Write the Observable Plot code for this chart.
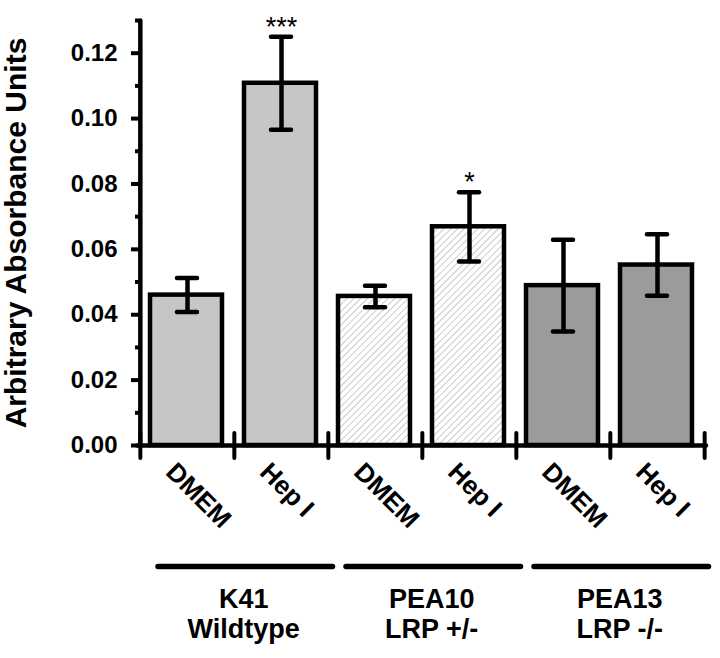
<!DOCTYPE html>
<html><head><meta charset="utf-8">
<script src="https://cdn.jsdelivr.net/npm/d3@7"></script>
<script src="https://cdn.jsdelivr.net/npm/@observablehq/plot@0.6"></script>
<style>body{margin:0;background:#fff}</style>
</head><body><div id="chart"></div>
<script>
const groups = ["K41\nWildtype", "PEA10\nLRP +/-", "PEA13\nLRP -/-"];
const treatments = ["DMEM", "Hep I"];
const means = [0.0460, 0.1108, 0.0456, 0.0669, 0.0489, 0.0552];
const errors = [0.0052, 0.0142, 0.0033, 0.0106, 0.0140, 0.0094];
const significance = ["", "***", "", "*", "", ""];
const yTicks = [0, 0.02, 0.04, 0.06, 0.08, 0.10, 0.12];
const yMinorTicks = [0.01, 0.03, 0.05, 0.07, 0.09, 0.11, 0.13];
const yMax = 0.13;
const yLabel = "Arbitrary Absorbance Units";

const groupFills = ["#c6c6c6", "url(#hatch)", "#9b9b9b"];

const rows = [];
groups.forEach((g, gi) => treatments.forEach((t, ti) => {
  const i = gi * 2 + ti;
  rows.push({key: `${gi}-${t}`, group: gi, treatment: t, mean: means[i], err: errors[i], sig: significance[i]});
}));
const keys = rows.map(d => d.key);
const groupRows = groups.map((g, gi) => ({label: g, first: keys[gi * 2], last: keys[gi * 2 + 1]}));
const axisLine = [{k: keys[0], v: 0}, {k: keys[0], v: yMax}];

const W = 720, H = 658, mL = 139, mR = 15, mT = 20, mB = 213;
const bw = (W - mL - mR) / keys.length;

// short vertical stroke used as a tick symbol on the x axis
const vTick = {draw(ctx, size) { const r = Math.sqrt(size); ctx.moveTo(0, -r); ctx.lineTo(0, r); }};

const svg = Plot.plot({
  width: W, height: H,
  marginLeft: mL, marginRight: mR, marginTop: mT, marginBottom: mB,
  style: {fontFamily: "'Liberation Sans', Arial, sans-serif", background: "#fff", color: "#000"},
  x: {domain: keys, padding: 0, axis: null},
  y: {domain: [0, yMax], axis: null},
  marks: [
    ...groups.map((g, gi) => Plot.barY(rows.filter(d => d.group === gi), {
      x: "key", y: "mean", fill: groupFills[gi], stroke: "black", strokeWidth: 4.5,
      insetLeft: 10, insetRight: 12
    })),
    Plot.ruleX(rows, {x: "key", y1: d => d.mean - d.err, y2: d => d.mean + d.err, strokeWidth: 4.5}),
    Plot.tickY(rows, {x: "key", y: d => d.mean + d.err, insetLeft: 37, insetRight: 37, strokeWidth: 4.5, strokeLinecap: "round"}),
    Plot.tickY(rows, {x: "key", y: d => d.mean - d.err, insetLeft: 37, insetRight: 37, strokeWidth: 4.5, strokeLinecap: "round"}),
    Plot.text(rows.filter(d => d.sig), {x: "key", y: d => d.mean + d.err, text: "sig", lineAnchor: "bottom", dy: -1, fontSize: 27}),
    Plot.ruleY([0], {strokeWidth: 4.5, insetLeft: -2, insetRight: -1, strokeLinecap: "round"}),
    Plot.dot(keys, {x: d => d, y: () => 0, dx: -bw / 2, symbol: vTick, r: 7, stroke: "black", strokeWidth: 4, strokeLinecap: "round", fill: "none"}),
    Plot.dot([keys[keys.length - 1]], {x: d => d, y: () => 0, dx: bw / 2, symbol: vTick, r: 7, stroke: "black", strokeWidth: 4, strokeLinecap: "round", fill: "none"}),
    Plot.line(axisLine, {x: "k", y: "v", dx: -bw / 2, stroke: "black", strokeWidth: 4.5, strokeLinecap: "round"}),
    Plot.axisY(yTicks, {tickSize: 8, tickPadding: 14, tickFormat: d3.format(".2f"), fontSize: 24, fontWeight: "bold", strokeWidth: 4, label: null}),
    Plot.axisY(yMinorTicks, {tickSize: 4, tickFormat: () => "", strokeWidth: 4, label: null}),
    Plot.text([yLabel], {frameAnchor: "left", rotate: -90, dx: -114, textAnchor: "middle", lineAnchor: "bottom", fontSize: 30, fontWeight: "bold"}),
    Plot.text(rows, {x: "key", text: "treatment", frameAnchor: "bottom", rotate: 45, textAnchor: "start", lineAnchor: "bottom", dx: -23, dy: 28, fontSize: 26, fontWeight: "bold"}),
    Plot.ruleY(groupRows, {x1: "first", x2: "last", y: () => 0, dy: 121, insetLeft: 18, insetRight: -4.5, strokeWidth: 5.5, strokeLinecap: "round"}),
    Plot.text(groupRows, {x: "first", text: "label", frameAnchor: "bottom", dx: bw / 2 + 9, dy: 141, lineAnchor: "top", fontSize: 27, fontWeight: "bold", lineHeight: 1.12})
  ]
});

svg.insertAdjacentHTML("afterbegin",
  '<defs><pattern id="hatch" patternUnits="userSpaceOnUse" width="4.8" height="4.8" patternTransform="rotate(45)">' +
  '<rect width="4.8" height="4.8" fill="#fff"/><line x1="0" y1="0" x2="0" y2="4.8" stroke="#b3b3b3" stroke-width="1.4"/></pattern></defs>');

document.getElementById("chart").appendChild(svg);
</script>
</body></html>
